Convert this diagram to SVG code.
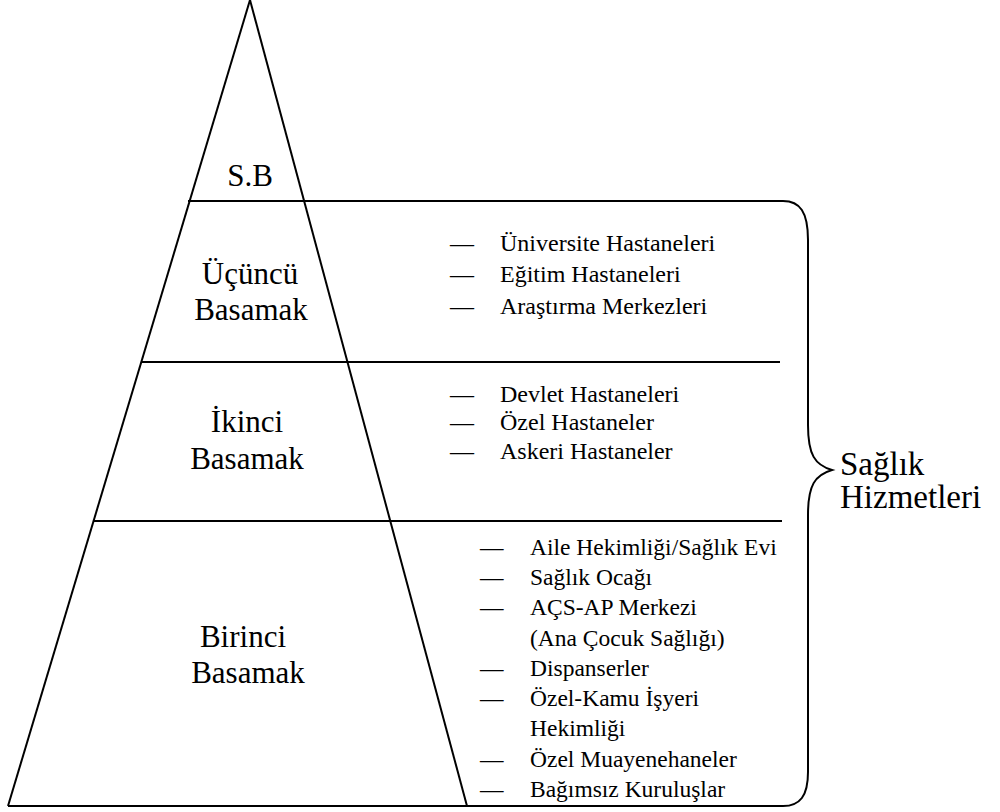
<svg xmlns="http://www.w3.org/2000/svg" width="1000" height="812" viewBox="0 0 1000 812">
<style>
  .ln { stroke: #000; stroke-width: 2; fill: none; }
  text { font-family: "Liberation Serif", "Times New Roman", Times, "DejaVu Serif", serif; fill: #000; }
  .lbl { font-size: 31px; text-anchor: middle; }
  .item { font-size: 23.5px; }
  .item2 { font-size: 24px; }
  .side { font-size: 33px; }
</style>
<rect width="1000" height="812" fill="#fff"/>
<g id="pyramid">
  <line class="ln" x1="250" y1="0" x2="8" y2="806"/>
  <line class="ln" x1="250" y1="0" x2="467" y2="806"/>
</g>
<g id="connectors">
  <line class="ln" x1="188" y1="201" x2="783" y2="201"/>
  <line class="ln" x1="141" y1="362" x2="780" y2="362"/>
  <line class="ln" x1="93" y1="521" x2="782" y2="521"/>
  <line class="ln" x1="8" y1="806" x2="783" y2="806"/>
  <path id="brace" class="ln" d="M 783 201 C 800 201 808 212 808 240 L 808 425 C 808 455 815 465 832 470 C 815 475 808 485 808 515 L 808 772 C 808 796 800 806 783 806"/>
</g>
<g id="sb">
  <text class="lbl" x="250" y="186">S.B</text>
</g>
<g id="ucuncu">
  <text class="lbl" x="250" y="284">Üçüncü</text>
  <text class="lbl" x="251" y="320">Basamak</text>
</g>
<g id="ikinci">
  <text class="lbl" x="247" y="432">İkinci</text>
  <text class="lbl" x="247" y="469">Basamak</text>
</g>
<g id="birinci">
  <text class="lbl" x="243" y="647">Birinci</text>
  <text class="lbl" x="248" y="683">Basamak</text>
</g>
<g id="ucuncu-list">
  <text class="item2" x="450" y="251">—</text><text class="item2" x="500" y="251">Üniversite Hastaneleri</text>
  <text class="item2" x="450" y="282">—</text><text class="item2" x="500" y="282">Eğitim Hastaneleri</text>
  <text class="item2" x="450" y="314">—</text><text class="item2" x="500" y="314">Araştırma Merkezleri</text>
</g>
<g id="ikinci-list">
  <text class="item2" x="450" y="402">—</text><text class="item2" x="500" y="402">Devlet Hastaneleri</text>
  <text class="item2" x="450" y="430">—</text><text class="item2" x="500" y="430">Özel Hastaneler</text>
  <text class="item2" x="450" y="459">—</text><text class="item2" x="500" y="459">Askeri Hastaneler</text>
</g>
<g id="birinci-list">
  <text class="item" x="480" y="555">—</text><text class="item" x="530" y="555">Aile Hekimliği/Sağlık Evi</text>
  <text class="item" x="480" y="585">—</text><text class="item" x="530" y="585">Sağlık Ocağı</text>
  <text class="item" x="480" y="615">—</text><text class="item" x="530" y="615">AÇS-AP Merkezi</text>
  <text class="item" x="530" y="646">(Ana Çocuk Sağlığı)</text>
  <text class="item" x="480" y="676">—</text><text class="item" x="530" y="676">Dispanserler</text>
  <text class="item" x="480" y="706">—</text><text class="item" x="530" y="706">Özel-Kamu İşyeri</text>
  <text class="item" x="530" y="736">Hekimliği</text>
  <text class="item" x="480" y="767">—</text><text class="item" x="530" y="767">Özel Muayenehaneler</text>
  <text class="item" x="480" y="797">—</text><text class="item" x="530" y="797">Bağımsız Kuruluşlar</text>
</g>
<g id="saglik-hizmetleri">
  <text class="side" x="840" y="475">Sağlık</text>
  <text class="side" x="840" y="508">Hizmetleri</text>
</g>
</svg>
